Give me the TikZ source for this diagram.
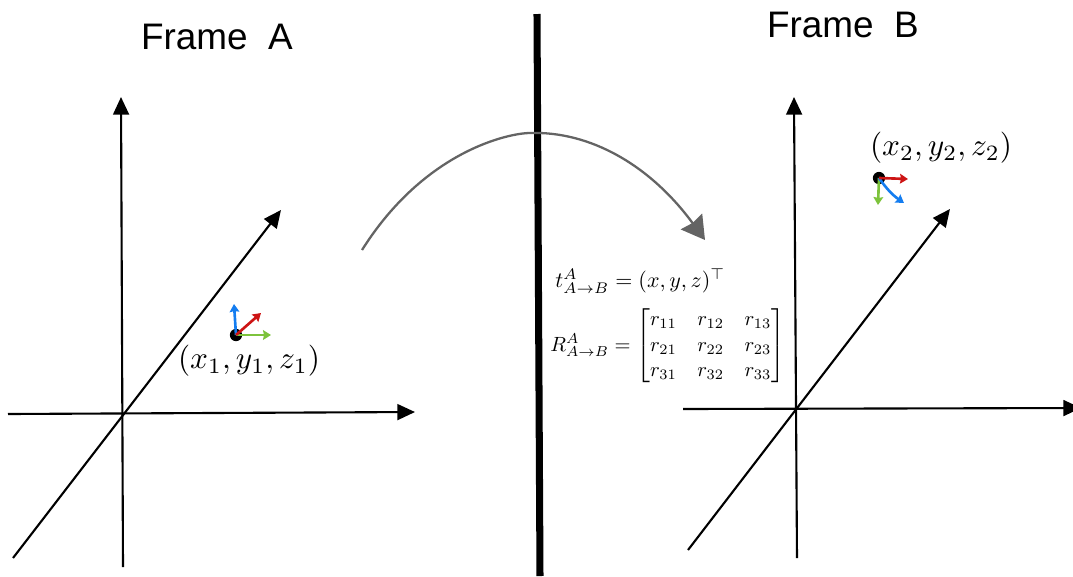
\documentclass[tikz,border=0pt]{standalone}
\usepackage{amsmath}
\usepackage{fontspec}
\setmainfont{Liberation Sans}
\usetikzlibrary{arrows.meta}
\definecolor{axred}{RGB}{205,20,20}
\definecolor{axgreen}{RGB}{125,195,60}
\definecolor{axblue}{RGB}{20,125,240}
\definecolor{curvegray}{RGB}{100,100,100}
\tikzset{
	axis/.style={line width=1.2pt,-{Stealth[length=10pt,width=9pt,inset=0pt]}},
	small/.style={line width=1.5pt,-{Stealth[length=4.5pt,width=5.5pt,inset=0.5pt]}},
	title/.style={font=\fontsize{21}{24}\selectfont},
	point/.style={circle,fill=black,inner sep=0pt,minimum size=7pt},
}
\begin{document}
\begin{tikzpicture}[x=0.2mm,y=-0.2mm,line join=round]
	\useasboundingbox (0,0) rectangle (1073,576);
	\node[title] (titleA) at (217,37) {Frame\ \ A};
	\node[title] (titleB) at (843,25) {Frame\ \ B};
	% frame A
	\coordinate (a1) at (123,567);
	\coordinate (a2) at (121,97);
	\coordinate (a3) at (8,414);
	\coordinate (a4) at (415,412);
	\coordinate (a5) at (13,558);
	\coordinate (a6) at (281,210);
	\draw[axis] (a1)--(a2);
	\draw[axis] (a3)--(a4);
	\draw[axis] (a5)--(a6);
	% frame B
	\coordinate (b1) at (797,558);
	\coordinate (b2) at (794,97);
	\coordinate (b3) at (683,409);
	\coordinate (b4) at (1081,408);
	\coordinate (b5) at (688,550);
	\coordinate (b6) at (950,209);
	\draw[axis] (b1)--(b2);
	\draw[axis] (b3)--(b4);
	\draw[axis] (b5)--(b6);
	% divider
	\coordinate (d1) at (537,14);
	\coordinate (d2) at (540,576);
	\draw[line width=4pt] (d1)--(d2);
	% transform arrow
	\coordinate (c1) at (362,250);
	\coordinate (c2) at (705,240);
	\draw[curvegray,line width=1.3pt,-{Stealth[length=13pt,width=15pt,inset=1pt]}] (c1) .. controls (425,150) and (510,133) .. (530,133) .. controls (590,131) and (650,165) .. (c2);
	% point in A
	\node[point] (pA) at (236,335) {};
	\coordinate (pAz) at (234,304);
	\coordinate (pAy) at (261,313);
	\coordinate (pAx) at (271,335);
	\draw[small,axblue] (pA.center)--(pAz);
	\draw[small,axgreen] (pA.center)--(pAx);
	\draw[small,axred] (pA.center)--(pAy);
	\node[scale=1.78] (labA) at (249,361) {$(x_1,y_1,z_1)$};
	% point in B
	\node[point] (pB) at (879,178) {};
	\coordinate (pBx) at (908,179);
	\coordinate (pBy) at (878,205);
	\coordinate (pBz) at (904,203);
	\draw[small,axgreen] (pB.center)--(pBy);
	\draw[small,axblue] (pB.center) to[bend right=10] (pBz);
	\draw[small,axred] (pB.center)--(pBx);
	\node[scale=1.78] (labB) at (941,148) {$(x_2,y_2,z_2)$};
	% transform text
	\node[anchor=west,scale=1.25,inner sep=0pt] (trans) at (555,281) {$t^A_{A\to B}=(x,y,z)^\top$};
	\node[anchor=west,scale=1.17,inner sep=0pt] (rot) at (550,346) {\renewcommand{\arraystretch}{1.03}$R^A_{A\to B}=\begin{bmatrix}r_{11}&r_{12}&r_{13}\\r_{21}&r_{22}&r_{23}\\r_{31}&r_{32}&r_{33}\end{bmatrix}$};
\end{tikzpicture}
\end{document}
